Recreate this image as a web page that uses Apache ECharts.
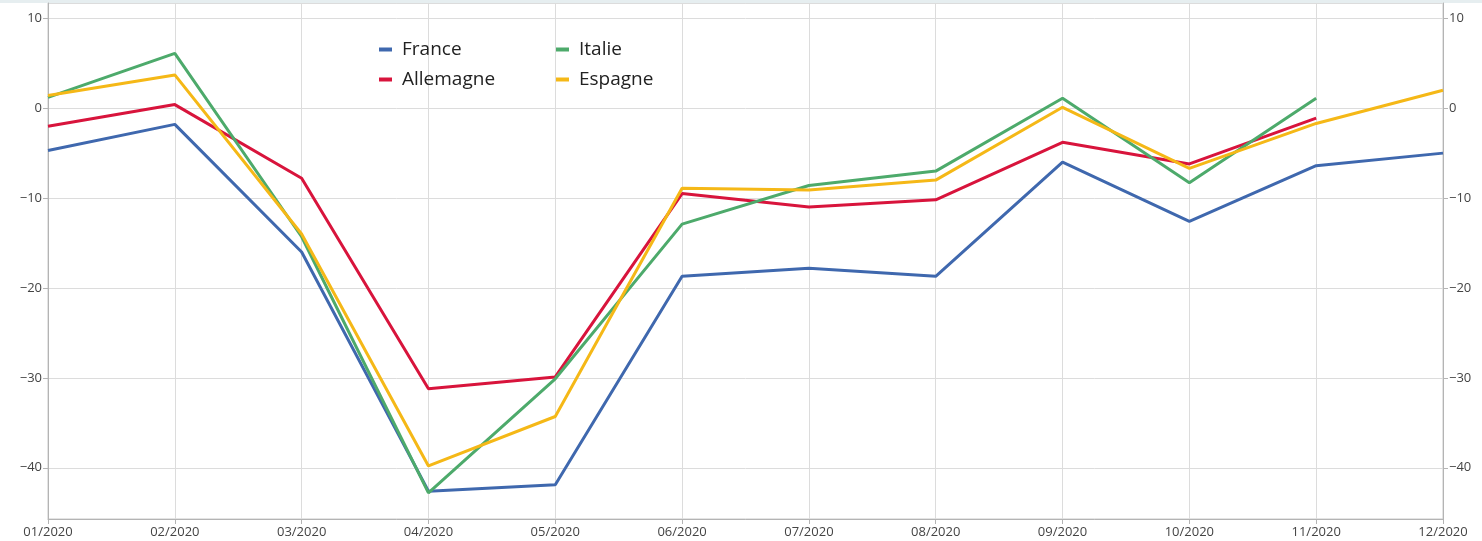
<!DOCTYPE html>
<html>
<head>
<meta charset="utf-8">
<script src="https://cdn.jsdelivr.net/npm/echarts@6/dist/echarts.min.js"></script>
<style>
  html, body { margin: 0; padding: 0; background: #fff; }
  #chart { width: 1482px; height: 541px; }
</style>
</head>
<body>
<div id="chart"></div>
<script>
// mois
var mois = ['01/2020','02/2020','03/2020','04/2020','05/2020','06/2020','07/2020','08/2020','09/2020','10/2020','11/2020','12/2020'];

// séries
var france    = [-4.7, -1.8, -16.0, -42.6, -41.9, -18.7, -17.8, -18.7, -6.0, -12.6, -6.4, -5.0];
var allemagne = [-2.0, 0.4, -7.8, -31.2, -29.9, -9.5, -11.0, -10.2, -3.8, -6.2, -1.1, null];
var italie    = [1.2, 6.1, -14.3, -42.8, -30.1, -12.9, -8.6, -7.0, 1.1, -8.3, 1.1, null];
var espagne   = [1.4, 3.7, -14.0, -39.8, -34.3, -8.9, -9.1, -8.0, 0.1, -6.7, -1.7, 2.0];

var couleurs = ['#3f68ae', '#d8143c', '#4daa6b', '#f5b817'];

function moins(v) {
    return v < 0 ? '\u2212' + Math.abs(v) : String(v);
}

var axeY = function (pos) {
    return {
        type: 'value',
        position: pos,
        min: -45.7,
        max: 11.7,
        axisLine: { show: true, lineStyle: { color: '#b4b4b4' } },
        axisTick: { show: true, length: 5, lineStyle: { color: '#b4b4b4' } },
        axisLabel: {
            showMinLabel: false,
            showMaxLabel: false,
            color: '#444',
            fontSize: 13,
            fontFamily: 'Open Sans',
            margin: 6,
            formatter: moins
        },
        splitLine: { show: pos == 'left', lineStyle: { color: '#dcdcdc' } }
    };
};

var legende = function (noms, gauche) {
    return {
        data: noms,
        orient: 'vertical',
        left: gauche,
        top: 35,
        icon: 'rect',
        itemWidth: 13,
        itemHeight: 4,
        itemGap: 11,
        textStyle: { fontSize: 19, color: '#222', fontFamily: 'Open Sans', padding: [0, 0, 0, 5] }
    };
};

var chart = echarts.init(document.getElementById('chart'));
var option = {
    animation: false,
    graphic: [{
        type: 'rect',
        shape: { x: 0, y: 0, width: 1482, height: 3 },
        style: { fill: '#e6eef0' }
    }],
    grid: {
        left: 48,
        right: 39,
        top: 3,
        bottom: 22,
        show: true,
        borderColor: '#c8c8c8',
        borderWidth: 1
    },
    legend: [legende(['France', 'Allemagne'], 374), legende(['Italie', 'Espagne'], 551)],
    xAxis: {
        type: 'category',
        boundaryGap: false,
        data: mois,
        axisLine: { onZero: false, lineStyle: { color: '#b4b4b4' } },
        axisTick: { show: true, length: 5, alignWithLabel: true, lineStyle: { color: '#b4b4b4' } },
        axisLabel: { color: '#444', fontSize: 13, fontFamily: 'Open Sans', margin: 7, interval: 0 },
        splitLine: { show: true, lineStyle: { color: '#dcdcdc' } }
    },
    yAxis: [axeY('left'), axeY('right')],
    series: [
        { name: 'France', type: 'line', data: france, showSymbol: false, lineStyle: { width: 3, color: couleurs[0] }, itemStyle: { color: couleurs[0] } },
        { name: 'Allemagne', type: 'line', data: allemagne, showSymbol: false, lineStyle: { width: 3, color: couleurs[1] }, itemStyle: { color: couleurs[1] } },
        { name: 'Italie', type: 'line', data: italie, showSymbol: false, lineStyle: { width: 3, color: couleurs[2] }, itemStyle: { color: couleurs[2] } },
        { name: 'Espagne', type: 'line', data: espagne, showSymbol: false, lineStyle: { width: 3, color: couleurs[3] }, itemStyle: { color: couleurs[3] } }
    ]
};
chart.setOption(option);
</script>
</body>
</html>
